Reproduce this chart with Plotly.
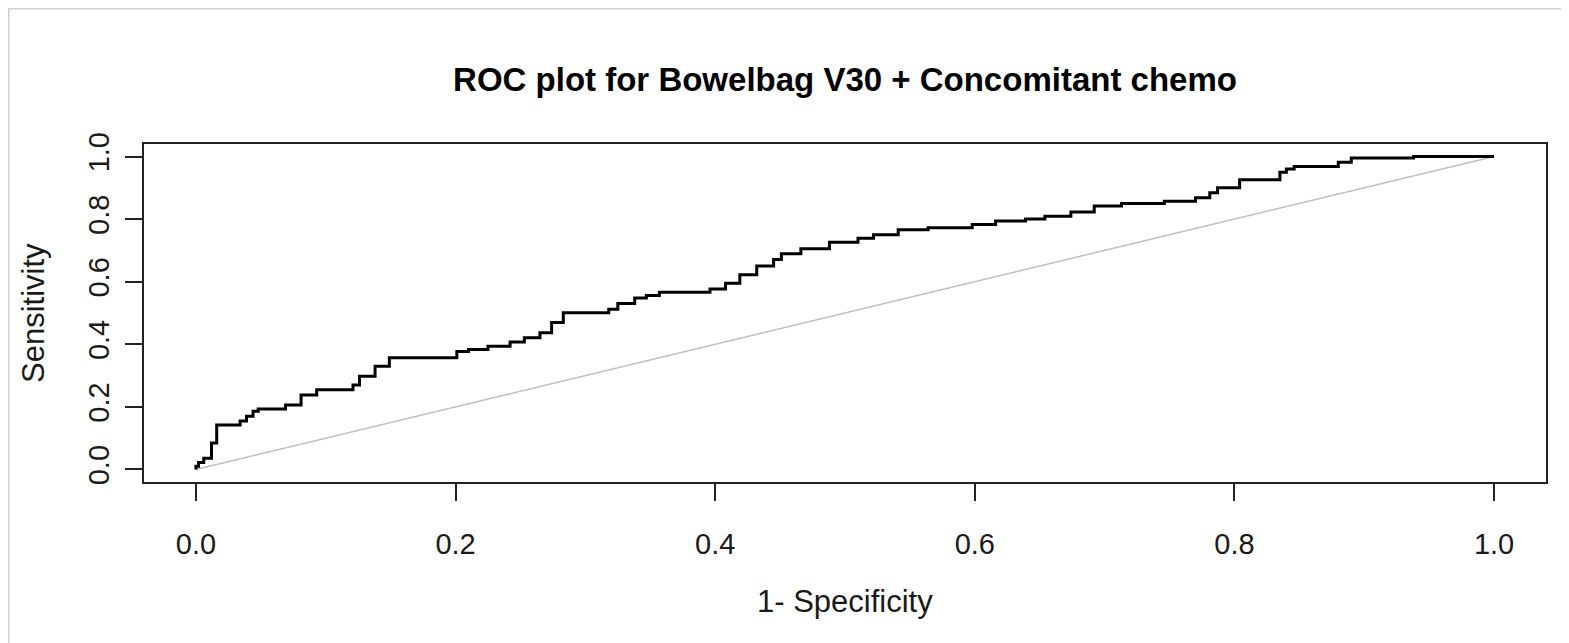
import plotly.graph_objects as go

# ROC step vertices: at each fpr value the curve rises to the given tpr level
fpr = [0.000, 0.000, 0.002, 0.006, 0.012, 0.016, 0.034, 0.039, 0.044, 0.048,
       0.069, 0.081, 0.093, 0.121, 0.126, 0.138, 0.149, 0.201, 0.210, 0.225,
       0.242, 0.253, 0.265, 0.274, 0.283, 0.318, 0.325, 0.338, 0.347, 0.357,
       0.396, 0.408, 0.419, 0.432, 0.445, 0.451, 0.466, 0.488, 0.510, 0.522,
       0.541, 0.564, 0.598, 0.616, 0.639, 0.654, 0.674, 0.692, 0.713, 0.746,
       0.770, 0.781, 0.787, 0.804, 0.835, 0.840, 0.846, 0.880, 0.890, 0.938,
       1.000]
tpr = [0.000, 0.010, 0.022, 0.036, 0.085, 0.142, 0.155, 0.170, 0.186, 0.193,
       0.206, 0.238, 0.255, 0.270, 0.298, 0.330, 0.357, 0.377, 0.383, 0.394,
       0.407, 0.421, 0.437, 0.470, 0.501, 0.512, 0.530, 0.548, 0.556, 0.566,
       0.577, 0.595, 0.622, 0.650, 0.671, 0.689, 0.705, 0.726, 0.739, 0.750,
       0.766, 0.772, 0.783, 0.794, 0.800, 0.809, 0.823, 0.842, 0.850, 0.857,
       0.868, 0.884, 0.900, 0.926, 0.950, 0.960, 0.968, 0.982, 0.995, 1.000,
       1.000]

diag_x = [0.0, 1.0]
diag_y = [0.0, 1.0]

tick_vals = [0.0, 0.2, 0.4, 0.6, 0.8, 1.0]
tick_text = ["0.0", "0.2", "0.4", "0.6", "0.8", "1.0"]

title_text = "ROC plot for Bowelbag V30 + Concomitant chemo"
x_title = "1- Specificity"
y_title = "Sensitivity"

FONT = "Liberation Sans, Arial, sans-serif"

fig = go.Figure()
fig.add_trace(go.Scatter(x=diag_x, y=diag_y, mode="lines",
                         line=dict(color="#BEBEBE", width=1.5),
                         hoverinfo="skip", showlegend=False))
fig.add_trace(go.Scatter(x=fpr, y=tpr, mode="lines",
                         line=dict(color="black", width=3, shape="hv"),
                         showlegend=False))

OFF = 8  # page body margin
W, H = 1569, 643
# plot box in screen pixels: x 144..1546, y 144..482
L = 144 - OFF
T = 144 - OFF
R = W - (1546 - OFF)
B = H - (482 - OFF)
pw, ph = W - L - R, H - T - B

def px_x(px):
    return (px - OFF - L) / pw

def px_y(py):
    return (H - B - (py - OFF)) / ph

fig.update_layout(
    width=W, height=H,
    margin=dict(l=L, r=R, t=T, b=B, pad=0),
    paper_bgcolor="white", plot_bgcolor="white",
    font=dict(family=FONT, color="#1a1a1a"),
    title=dict(text="<b>" + title_text + "</b>", x=0.5, xref="paper",
               y=1 - (79 - OFF) / H, yref="container", xanchor="center", yanchor="middle",
               font=dict(size=33, family=FONT, color="black")),
    xaxis=dict(range=[-0.04, 1.04], tickvals=tick_vals, ticktext=tick_text,
               showgrid=False, zeroline=False, showline=True, mirror=True,
               linecolor="#222", linewidth=2, ticks="outside", ticklen=17,
               tickwidth=1.5, tickcolor="#222",
               tickfont=dict(size=29, family=FONT, color="#1a1a1a"),
               ticklabelstandoff=18),
    yaxis=dict(range=[-0.04, 1.04], tickvals=tick_vals, ticktext=tick_text,
               showgrid=False, zeroline=False, showline=True, mirror=True,
               linecolor="#222", linewidth=2, ticks="outside", ticklen=17,
               tickwidth=1.5, tickcolor="#222", tickangle=-90,
               tickfont=dict(size=29, family=FONT, color="#1a1a1a"),
               ticklabelstandoff=4),
    annotations=[
        dict(text=x_title, xref="paper", yref="paper", x=px_x(845), y=px_y(601),
             xanchor="center", yanchor="middle", showarrow=False,
             font=dict(size=31, family=FONT, color="#1a1a1a")),
        dict(text=y_title, xref="paper", yref="paper", x=px_x(33), y=px_y(313),
             xanchor="center", yanchor="middle", showarrow=False, textangle=-90,
             font=dict(size=31, family=FONT, color="#1a1a1a")),
    ],
    shapes=[
        dict(type="line", xref="paper", yref="paper", x0=px_x(8.5), x1=px_x(1600),
             y0=px_y(8.5), y1=px_y(8.5), line=dict(color="#cfcfcf", width=2)),
        dict(type="line", xref="paper", yref="paper", x0=px_x(8.5), x1=px_x(8.5),
             y0=px_y(8.5), y1=px_y(700), line=dict(color="#cfcfcf", width=2)),
    ],
)

fig.write_html("out.html")
